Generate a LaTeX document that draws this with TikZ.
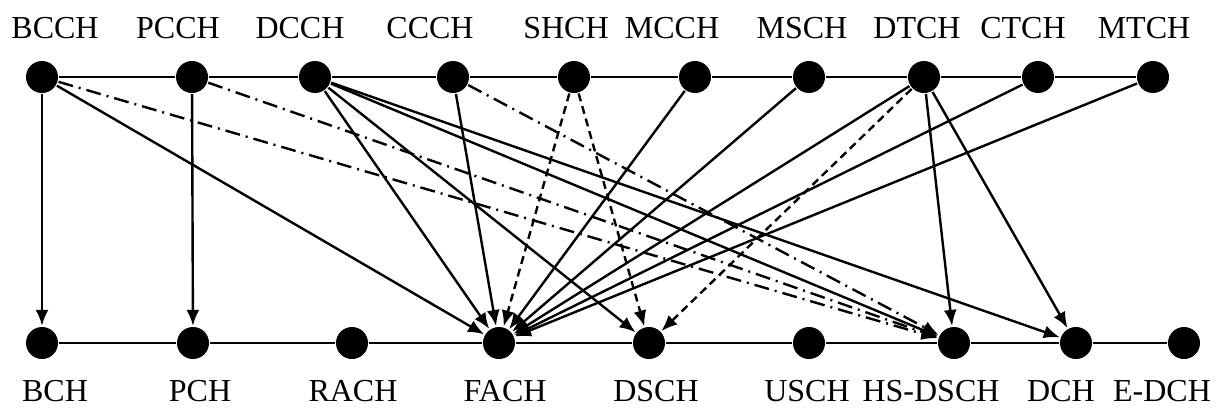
\documentclass[tikz,border=0pt]{standalone}
\usepackage{fontspec}
\setmainfont{Liberation Serif}
\usetikzlibrary{arrows.meta}

\begin{document}
\begin{tikzpicture}[x=1pt, y=-1pt, line width=2.4pt,
    ch/.style={circle, fill, inner sep=0pt, minimum size=32pt},
    lbl/.style={anchor=base, inner sep=0pt, font=\fontsize{32}{38}\selectfont},
    map/.style={-{Latex[length=16pt, width=13pt]}},
    dsh/.style={map, dash pattern=on 8pt off 5pt},
    dshdot/.style={map, dash pattern=on 15pt off 6pt on 2pt off 6pt}]
    \useasboundingbox (0,0) rectangle (1217,407);
    % Logical channels
    \node[ch] (bcch) at (42,77) {};
    \node[ch] (pcch) at (192,77) {};
    \node[ch] (dcch) at (315,77) {};
    \node[ch] (ccch) at (453,77) {};
    \node[ch] (shch) at (574,77) {};
    \node[ch] (mcch) at (695,77) {};
    \node[ch] (msch) at (809,77) {};
    \node[ch] (dtch) at (924,77) {};
    \node[ch] (ctch) at (1038,77) {};
    \node[ch] (mtch) at (1153,77) {};
    \node[lbl] (bcchl) at (55,38) {BCCH};
    \node[lbl] (pcchl) at (178,38) {PCCH};
    \node[lbl] (dcchl) at (300,38) {DCCH};
    \node[lbl] (ccchl) at (430,38) {CCCH};
    \node[lbl] (shchl) at (566,38) {SHCH};
    \node[lbl] (mcchl) at (672,38) {MCCH};
    \node[lbl] (mschl) at (802,38) {MSCH};
    \node[lbl] (dtchl) at (917,38) {DTCH};
    \node[lbl] (ctchl) at (1023,38) {CTCH};
    \node[lbl] (mtchl) at (1144,38) {MTCH};
    % Transport channels
    \node[ch] (bch) at (42,343) {};
    \node[ch] (pch) at (193,343) {};
    \node[ch] (rach) at (352,343) {};
    \node[ch] (fach) at (499,343) {};
    \node[ch] (dsch) at (649,343) {};
    \node[ch] (usch) at (809,343) {};
    \node[ch] (hsdsch) at (954,343) {};
    \node[ch] (dch) at (1076,343) {};
    \node[ch] (edch) at (1184,343) {};
    \node[lbl] (bchl) at (55,401) {BCH};
    \node[lbl] (pchl) at (200,401) {PCH};
    \node[lbl] (rachl) at (353,401) {RACH};
    \node[lbl] (fachl) at (505,401) {FACH};
    \node[lbl] (dschl) at (656,401) {DSCH};
    \node[lbl] (uschl) at (807,401) {USCH};
    \node[lbl] (hsdschl) at (931,401) {HS-DSCH};
    \node[lbl] (dchl) at (1061,401) {DCH};
    \node[lbl] (edchl) at (1162,401) {E-DCH};
    % Rows
    \draw (bcch) -- (pcch) -- (dcch) -- (ccch) -- (shch) -- (mcch) -- (msch) -- (dtch) -- (ctch) -- (mtch);
    \draw (bch) -- (pch) -- (rach) -- (fach) -- (dsch) -- (usch) -- (hsdsch) -- (dch) -- (edch);
    % Mappings
    \draw[map] (bcch) -- (bch);
    \draw[map] (bcch) -- (fach);
    \draw[dshdot] (bcch) -- (hsdsch);
    \draw[map] (pcch) -- (pch);
    \draw[dshdot] (pcch) -- (hsdsch);
    \draw[map] (dcch) -- (fach);
    \draw[map] (dcch) -- (dsch);
    \draw[map] (dcch) -- (hsdsch);
    \draw[map] (dcch) -- (dch);
    \draw[map] (ccch) -- (fach);
    \draw[dshdot] (ccch) -- (hsdsch);
    \draw[dsh] (shch) -- (fach);
    \draw[dsh] (shch) -- (dsch);
    \draw[map] (mcch) -- (fach);
    \draw[map] (msch) -- (fach);
    \draw[map] (dtch) -- (fach);
    \draw[dsh] (dtch) -- (dsch);
    \draw[map] (dtch) -- (hsdsch);
    \draw[map] (dtch) -- (dch);
    \draw[map] (ctch) -- (fach);
    \draw[map] (mtch) -- (fach);
\end{tikzpicture}
\end{document}
